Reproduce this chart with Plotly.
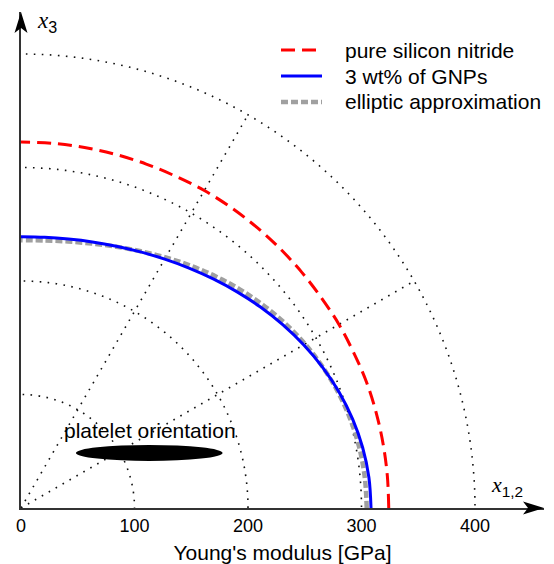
import numpy as np
import plotly.graph_objects as go

# ---- data ----
angles_deg = [0, 5, 10, 15, 20, 25, 30, 35, 40, 45, 50, 55, 60, 65, 70, 75, 80, 85, 90]
r_pure_si3n4 = [324, 324, 324, 324, 324, 323.5, 323.5, 323, 323, 323, 323, 323, 323, 322.5, 322.5, 322.5, 322.5, 322.5, 322.5]
r_gnp_3wt = [308.4, 307.7, 305.7, 302.5, 298.3, 293.2, 287.5, 281.5, 275.4, 269.3, 263.5, 258.1, 253.2, 249.0, 245.5, 242.7, 240.6, 239.4, 239.0]
r_elliptic = [304.6, 304.1, 302.8, 300.5, 297.4, 293.5, 289.0, 283.9, 278.3, 272.5, 266.5, 260.6, 254.9, 249.6, 245.0, 241.2, 238.4, 236.6, 236.0]
grid_radii = [100, 200, 300, 400]
grid_angles = [30, 60]
x_tick_vals = [0, 100, 200, 300, 400]
series_names = ["pure silicon nitride", "3 wt% of GNPs", "elliptic approximation"]

FONT = "Liberation Sans, Arial, sans-serif"
SERIF = "Liberation Serif, Times New Roman, serif"

# plot geometry (pixels)
ML, MR, MT, MB = 21, 10, 12, 56
W, H = 554, 564
PX_PER_GPA = 1.135
x_max = (W - ML - MR) / PX_PER_GPA
y_max = (H - MT - MB) / PX_PER_GPA

th = np.deg2rad(angles_deg)


def polar_xy(r):
    r = np.asarray(r, dtype=float)
    return r * np.cos(th), r * np.sin(th)


fig = go.Figure()

styles = [
    dict(color="#a0a0a0", width=4.5, dash="7px,3px"),
    dict(color="#0000ff", width=3),
    dict(color="#ff0000", width=3, dash="14px,7px"),
]
# draw order: elliptic (bottom), GNP, pure
for r, name, st in [(r_elliptic, series_names[2], styles[0]),
                    (r_gnp_3wt, series_names[1], styles[1]),
                    (r_pure_si3n4, series_names[0], styles[2])]:
    x, y = polar_xy(r)
    fig.add_trace(go.Scatter(x=x, y=y, mode="lines", name=name,
                             line=dict(shape="spline", smoothing=1.0, **st),
                             showlegend=False, hoverinfo="skip"))

shapes = []
grid_line = dict(color="#111111", width=1.6, dash="1.6px,6.4px")
for r in grid_radii:
    shapes.append(dict(type="circle", xref="x", yref="y", x0=-r, y0=-r, x1=r, y1=r,
                       line=grid_line, layer="below"))
for a in grid_angles:
    rr = max(grid_radii)
    shapes.append(dict(type="line", xref="x", yref="y", x0=0, y0=0,
                       x1=rr * np.cos(np.deg2rad(a)), y1=rr * np.sin(np.deg2rad(a)),
                       line=grid_line, layer="below"))

# platelet ellipse illustration
pc_x, pc_y, pa, pb = 113, 48.5, 64.6, 7.0
shapes.append(dict(type="circle", xref="x", yref="y", x0=pc_x - pa, x1=pc_x + pa,
                   y0=pc_y - pb, y1=pc_y + pb, fillcolor="black", line=dict(width=0)))

# axis arrowheads
shapes.append(dict(type="path", xref="paper", yref="paper", xsizemode="pixel", ysizemode="pixel",
                   xanchor=1, yanchor=0, path="M0,0L-21,6.5L-16,0L-21,-6.5Z",
                   fillcolor="black", line=dict(width=0)))
shapes.append(dict(type="path", xref="paper", yref="paper", xsizemode="pixel", ysizemode="pixel",
                   xanchor=0, yanchor=1, path="M0,0L-6.5,-21L0,-16L6.5,-21Z",
                   fillcolor="black", line=dict(width=0)))

# custom legend
pw, ph = W - ML - MR, H - MT - MB
def px2paper(px, py):
    return (px - ML) / pw, (H - MB - py) / ph

legend_rows = [(50, styles[2], series_names[0]), (76, styles[1], series_names[1]),
               (102, styles[0], series_names[2])]
annotations = []
for py, st, name in legend_rows:
    x0, y0 = px2paper(281, py)
    x1, _ = px2paper(322, py)
    shapes.append(dict(type="line", xref="paper", yref="paper", x0=x0, x1=x1, y0=y0, y1=y0,
                       line=dict(color=st["color"], width=st["width"], dash=st.get("dash", "solid"))))
    tx, _ = px2paper(343, py)
    annotations.append(dict(xref="paper", yref="paper", x=tx, y=y0, text=name, showarrow=False,
                            xanchor="left", yanchor="middle", font=dict(size=21, color="black", family=FONT)))

annotations.append(dict(xref="x", yref="y", x=12, y=428,
                        text=f"<span style='font-family:{SERIF}'><i>x</i></span><sub>3</sub>",
                        showarrow=False, xanchor="left", yanchor="middle",
                        font=dict(size=23, color="black", family=FONT)))
annotations.append(dict(xref="x", yref="y", x=412, y=19,
                        text=f"<span style='font-family:{SERIF}'><i>x</i></span><sub>1,2</sub>",
                        showarrow=False, xanchor="left", yanchor="middle",
                        font=dict(size=22, color="black", family=FONT)))
annotations.append(dict(xref="x", yref="y", x=113.5, y=68.5, text="platelet orientation",
                        showarrow=False, xanchor="center", yanchor="middle",
                        font=dict(size=21, color="black", family=FONT)))

fig.update_layout(
    width=W, height=H,
    margin=dict(l=ML, r=MR, t=MT, b=MB, pad=0, autoexpand=False),
    paper_bgcolor="white", plot_bgcolor="white",
    font=dict(family=FONT, color="black"),
    shapes=shapes, annotations=annotations,
    xaxis=dict(range=[0, x_max], tickvals=x_tick_vals, ticktext=[str(v) for v in x_tick_vals],
               showgrid=False, zeroline=False, showline=True, linecolor="#333333", linewidth=2,
               ticks="", tickfont=dict(size=18, color="black"), automargin=False,
               title=dict(text="Young's modulus [GPa]", font=dict(size=21, color="black"), standoff=11)),
    yaxis=dict(range=[0, y_max], showgrid=False, zeroline=False, showline=True, automargin=False,
               linecolor="#333333", linewidth=2, showticklabels=False, ticks=""),
    showlegend=False,
)

fig.write_html("out.html", config={"displayModeBar": False},
               post_script="document.body.style.margin='0px';document.body.style.overflow='hidden';")
